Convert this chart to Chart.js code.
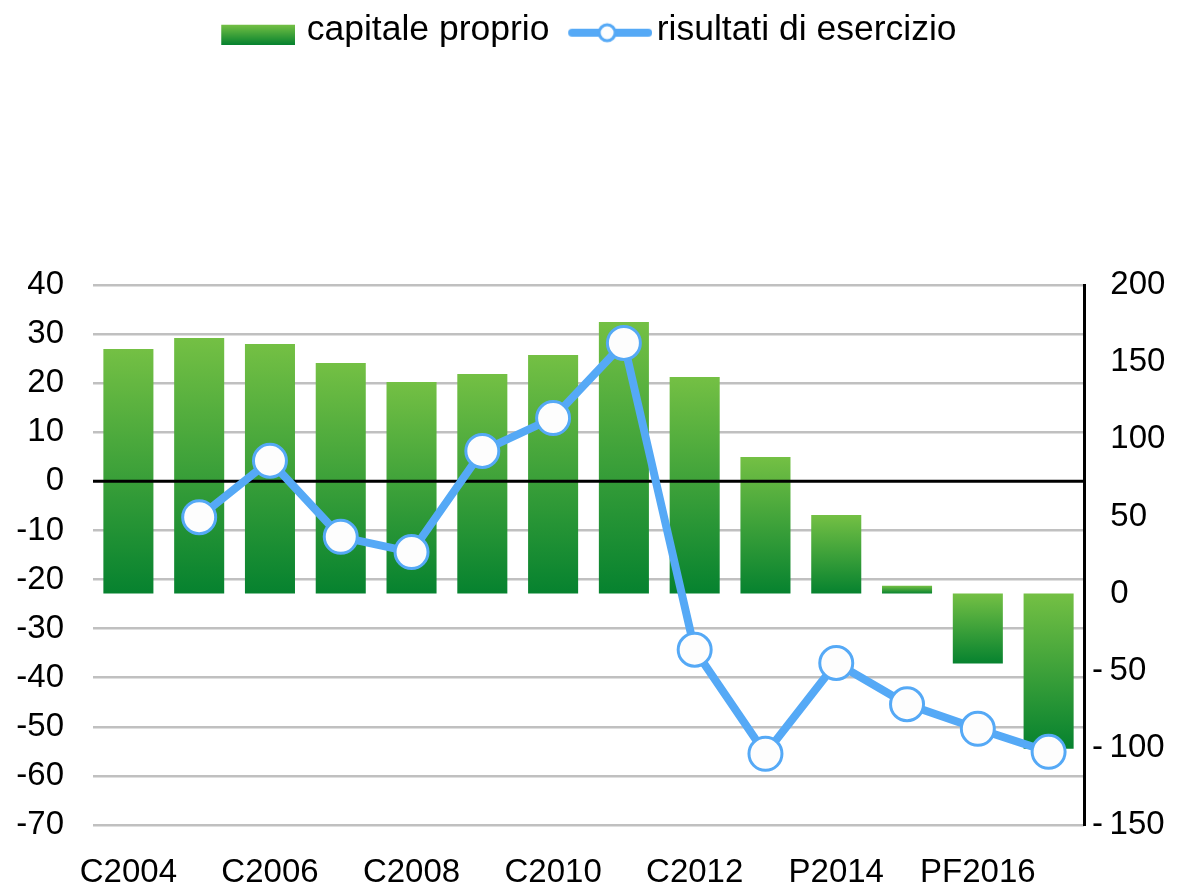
<!DOCTYPE html>
<html>
<head>
<meta charset="utf-8">
<script src="https://cdn.jsdelivr.net/npm/chart.js@4.4.1/dist/chart.umd.min.js"></script>
<style>
  html, body { margin: 0; padding: 0; background: #ffffff; }
  #wrap { width: 1186px; height: 890px; position: relative; }
</style>
</head>
<body>
<div id="wrap"><canvas id="c" width="1186" height="890"></canvas></div>
<script>
// ---- data ----
const categories = ['C2004','C2005','C2006','C2007','C2008','C2009','C2010','C2011','C2012','C2013','P2014','P2015','PF2016','PF2017'];
const capitaleProprio = [158.5, 165.7, 161.8, 149.5, 137.1, 142.3, 154.6, 176.0, 140.4, 88.5, 50.9, 5.0, -45.4, -100.5];
const risultatiEsercizio = [null, -7.3, 4.2, -11.3, -14.4, 6.2, 12.9, 28.2, -34.3, -55.5, -37.0, -45.4, -50.4, -55.1];
const seriesNames = ['capitale proprio', 'risultati di esercizio'];
const leftTicks = { min: -70, max: 40, step: 10 };
const rightTicks = { min: -150, max: 200, step: 50 };

const FONT = "'Liberation Sans', Arial, sans-serif";
const BLUE = '#55a9f6';
const GREEN_TOP = '#74c044';
const GREEN_BOT = '#06822f';

// legend swatches (canvas images)
function makeBoxImg() {
  const w = 74, h = 20, dx = 8, dy = 5;
  const c = document.createElement('canvas');
  c.width = w + 2 * dx; c.height = h + 2 * dy;
  const g = c.getContext('2d');
  const x0 = dx * 2, y0 = dy * 2;
  const gr = g.createLinearGradient(0, y0, 0, y0 + h);
  gr.addColorStop(0, GREEN_TOP); gr.addColorStop(1, GREEN_BOT);
  g.fillStyle = gr; g.fillRect(x0, y0, w, h);
  return c;
}
function makeLineImg() {
  const w = 84, h = 22, dx = 10, dy = 3;
  const c = document.createElement('canvas');
  c.width = w + 2 * dx; c.height = h + 2 * dy;
  const g = c.getContext('2d');
  const cx = c.width / 2 + dx, cy = c.height / 2 + dy;
  g.strokeStyle = BLUE; g.lineWidth = 8; g.lineCap = 'round';
  g.beginPath(); g.moveTo(cx - w / 2 + 4, cy); g.lineTo(cx + w / 2 - 4, cy); g.stroke();
  g.beginPath(); g.arc(cx - 3, cy, 8, 0, Math.PI * 2);
  g.fillStyle = '#fdfdfd'; g.fill();
  g.lineWidth = 3; g.stroke();
  return c;
}
const boxImg = makeBoxImg();
const lineImg = makeLineImg();

function barGradient(ctx) {
  const chart = ctx.chart;
  if (!chart.chartArea || !chart.scales.y2) return GREEN_TOP;
  const v = ctx.raw;
  const s = chart.scales.y2;
  const p0 = s.getPixelForValue(0), p1 = s.getPixelForValue(v);
  const top = Math.min(p0, p1), bot = Math.max(p0, p1);
  const g = chart.ctx.createLinearGradient(0, top, 0, bot + 0.001);
  g.addColorStop(0, GREEN_TOP); g.addColorStop(1, GREEN_BOT);
  return g;
}

const zeroLinePlugin = {
  id: 'zeroLine',
  afterDatasetDraw(chart, args) {
    if (args.index !== 0) return;
    const ca = chart.chartArea;
    const y = chart.scales.y.getPixelForValue(0);
    const c = chart.ctx;
    c.save();
    c.strokeStyle = '#000'; c.lineWidth = 3;
    c.beginPath(); c.moveTo(ca.left, y); c.lineTo(ca.right, y); c.stroke();
    c.restore();
  }
};
const legendSpace = {
  id: 'legendSpace',
  beforeInit(chart) {
    const orig = chart.legend.fit;
    chart.legend.fit = function () {
      orig.bind(chart.legend)();
      this.height = 285;
      if (this.lineWidths && this.lineWidths.length) this.lineWidths[0] += 18;
    };
  }
};

new Chart(document.getElementById('c'), {
  data: {
    labels: categories,
    datasets: [
      {
        type: 'bar',
        label: seriesNames[0],
        data: capitaleProprio,
        yAxisID: 'y2',
        backgroundColor: barGradient,
        borderWidth: 0,
        barPercentage: 0.707,
        categoryPercentage: 1.0,
        order: 1
      },
      {
        type: 'line',
        label: seriesNames[1],
        data: risultatiEsercizio,
        yAxisID: 'y',
        borderColor: BLUE,
        borderWidth: 8,
        pointRadius: 16.5,
        pointBorderWidth: 3,
        pointBackgroundColor: '#fdfdfd',
        pointBorderColor: BLUE,
        tension: 0,
        spanGaps: false,
        order: 0
      }
    ]
  },
  options: {
    responsive: false,
    animation: false,
    layout: { padding: 0 },
    plugins: {
      tooltip: { enabled: false },
      legend: {
        display: true,
        position: 'top',
        align: 'center',
        labels: {
          usePointStyle: true,
          pointStyleWidth: 77.5,
          padding: 12,
          color: '#000',
          font: { family: FONT, size: 35.5 },
          generateLabels: () => [
            { text: seriesNames[0], pointStyle: boxImg, fillStyle: 'transparent', strokeStyle: 'transparent', lineWidth: 0, hidden: false, datasetIndex: 0, fontColor: '#000' },
            { text: seriesNames[1], pointStyle: lineImg, fillStyle: 'transparent', strokeStyle: 'transparent', lineWidth: 0, hidden: false, datasetIndex: 1, fontColor: '#000' }
          ]
        }
      }
    },
    scales: {
      x: {
        type: 'category',
        grid: { display: false, drawTicks: false },
        border: { display: false },
        ticks: {
          autoSkip: false, maxRotation: 0, minRotation: 0,
          padding: 28, color: '#000',
          font: { family: FONT, size: 33 },
          callback: function (v, i) { return i % 2 === 0 ? categories[i] : ''; }
        },
        afterFit: (s) => { s.height = 65; }
      },
      y: {
        position: 'left',
        min: leftTicks.min, max: leftTicks.max,
        grid: {
          drawTicks: false,
          color: (c) => c.tick && c.tick.value === 0 ? 'rgba(0,0,0,0)' : '#c0c0c0',
          lineWidth: 2.5
        },
        border: { display: false },
        ticks: {
          stepSize: leftTicks.step, padding: 29, color: '#000',
          font: { family: FONT, size: 33 }
        },
        afterFit: (s) => { s.width = 93; }
      },
      y2: {
        position: 'right',
        min: rightTicks.min, max: rightTicks.max,
        grid: { display: false, drawTicks: false },
        border: { display: true, color: '#000', width: 3 },
        ticks: {
          stepSize: rightTicks.step, padding: 8, color: '#000',
          font: { family: FONT, size: 33 },
          callback: (v) => v < 0 ? '-\u2009' + Math.abs(v) : '\u2007' + v
        },
        afterFit: (s) => { s.width = 102; }
      }
    }
  },
  plugins: [zeroLinePlugin, legendSpace]
});
</script>
</body>
</html>
